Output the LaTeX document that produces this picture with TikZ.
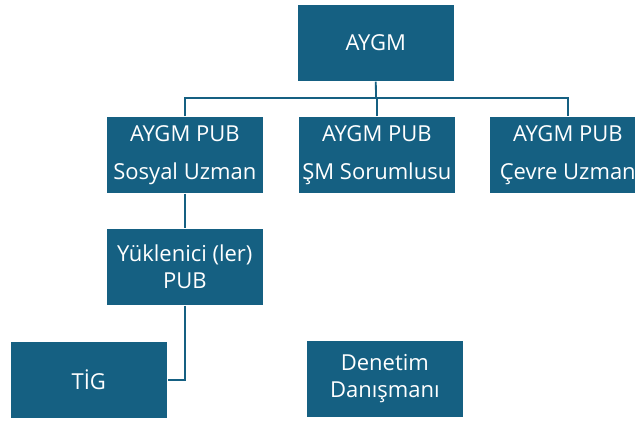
\documentclass[tikz,border=0pt]{standalone}
\usepackage{fontspec}
\setmainfont{Open Sans}
\definecolor{boxblue}{HTML}{156082}
\begin{document}
\begin{tikzpicture}[x=1pt,y=-1pt,
  orgbox/.style={rectangle, fill=boxblue, draw=white, line width=0.6pt,
    minimum width=157pt, minimum height=77pt, inner sep=0pt,
    text=white, align=center, anchor=north west,
    font=\fontsize{22pt}{27pt}\selectfont},
  widebox/.style={orgbox, font=\fontsize{22pt}{38pt}\selectfont},
  link/.style={draw=boxblue, line width=1.8pt}]
\useasboundingbox (0,0) rectangle (635,423);
\clip (0,0) rectangle (635,423);
\fill[white] (0,0) rectangle (635,423);
\node[orgbox] (aygm) at (297,4) {AYGM};
\node[widebox] (sosyal) at (106,116) {AYGM PUB\\Sosyal Uzman};
\node[widebox] (sm) at (298,116) {AYGM PUB\\ŞM Sorumlusu};
\node[widebox] (cevre) at (489,116) {AYGM PUB\\Çevre Uzman};
\node[orgbox] (yuk) at (106,228) {Yüklenici (ler)\\PUB};
\node[orgbox] (tig) at (10,341) {TİG};
\node[orgbox] (den) at (306,340) {Denetim\\Danışmanı};
\coordinate (bus) at (376,98);
\draw[link] (aygm.south) -- (bus);
\draw[link] (sosyal.north) |- (bus) -| (cevre.north);
\draw[link] (sm.north) -- (sm.north |- bus);
\draw[link] (sosyal.south) -- (yuk.north);
\draw[link] (yuk.south) |- (tig.east);
\end{tikzpicture}
\end{document}
